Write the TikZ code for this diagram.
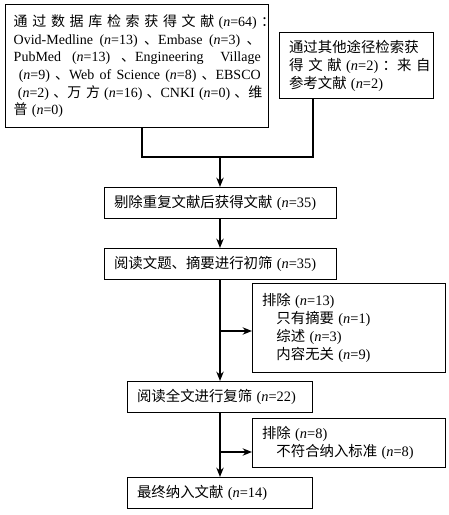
\documentclass[tikz,border=0pt]{standalone}
\usepackage{fontspec}
\setmainfont{Liberation Serif}
\newfontfamily\cjk{Noto Sans CJK SC}
\usetikzlibrary{arrows.meta, positioning}
\newcommand{\nn}[1]{\hspace{0.3em plus 0.15em}{\rmfamily(\textit{n}=#1)}\hspace{0.3em plus 0.15em}}
\newcommand{\en}[1]{{\rmfamily\spaceskip=0.25em plus 0.3em\relax #1}}
\newcommand{\spread}[1]{\makebox[\linewidth][s]{#1}}

\begin{document}
\begin{tikzpicture}[x=0.75pt, y=-0.75pt,
  box/.style={rectangle, draw, line width=1.1pt, anchor=north west, align=left, inner xsep=7pt, inner ysep=2pt, font=\cjk\fontsize{10.8}{13.5}\selectfont},
  link/.style={line width=1.5pt},
  arr/.style={link, -{Stealth[length=7pt, width=5.5pt]}}]
\useasboundingbox (0,0) rectangle (449,515);

\node (db) [box, inner xsep=6pt, font=\cjk\fontsize{10.5}{13.2}\selectfont, minimum width=197.25pt, text width=185.25pt, minimum height=92.25pt] at (5,4) {\spread{通 过 数 据 库 检 索 获 得 文 献\nn{64}：}\\\spread{\en{Ovid-Medline}\nn{13}、\en{Embase}\nn{3}、}\\\spread{\en{PubMed}\nn{13}、\en{Engineering Village}}\\\spread{\nn{9}、\en{Web of Science}\nn{8}、\en{EBSCO}}\\\spread{\nn{2}、万 方\nn{16}、\en{CNKI}\nn{0}、维}\\普\nn{0}};
\node (other) [box, minimum width=115.5pt, text width=101.5pt, minimum height=49.5pt] at (279,32) {通过其他途径检索获\\\spread{得 文 献\nn{2}：来 自}\\参考文献\nn{2}};
\node (dedup) [box, minimum width=174pt, text width=160pt, minimum height=23.25pt] at (104,187) {剔除重复文献后获得文献\nn{35}};
\node (screen) [box, minimum width=174pt, text width=160pt, minimum height=23.25pt] at (104,248) {阅读文题、摘要进行初筛\nn{35}};
\node (excl1) [box, minimum width=144.75pt, text width=130.75pt, minimum height=66.75pt] at (252,283) {排除\nn{13}\\\quad 只有摘要\nn{1}\\\quad 综述\nn{3}\\\quad 内容无关\nn{9}};
\node (full) [box, minimum width=138.75pt, text width=124.75pt, minimum height=23.25pt] at (127,381) {阅读全文进行复筛\nn{22}};
\node (excl2) [box, minimum width=144.75pt, text width=130.75pt, minimum height=36.75pt] at (252,418) {排除\nn{8}\\\quad 不符合纳入标准\nn{8}};
\node (final) [box, minimum width=138.75pt, text width=124.75pt, minimum height=23.25pt] at (127,477) {最终纳入文献\nn{14}};

\coordinate (j1) at (142,157);
\coordinate (j2) at (313,157);
\coordinate (jm) at (220,157);
\coordinate (b1) at (220,331);
\coordinate (b2) at (220,452);

\draw [link] (db.south -| j1) -- (j1) -- (j2) -- (other.south -| j2);
\draw [arr] (jm) -- (dedup.north -| jm);
\draw [arr] (dedup.south -| jm) -- (screen.north -| jm);
\draw [arr] (screen.south -| jm) -- (full.north -| jm);
\draw [arr] (b1) -- (b1 -| excl1.west);
\draw [arr] (full.south -| jm) -- (final.north -| jm);
\draw [arr] (b2) -- (b2 -| excl2.west);
\end{tikzpicture}
\end{document}
